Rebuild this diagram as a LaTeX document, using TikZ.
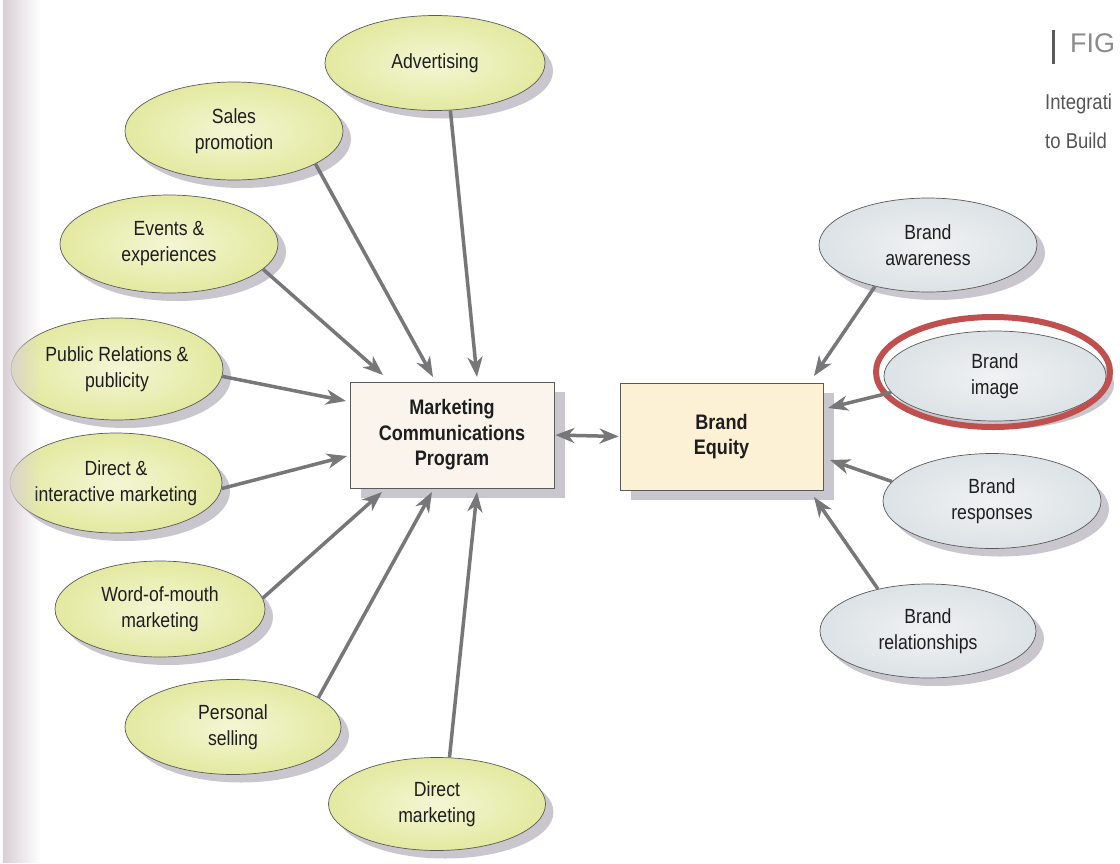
\documentclass[tikz,border=0pt]{standalone}
\usepackage{fontspec}
\setmainfont{Liberation Sans}[FakeStretch=0.86]
\newfontfamily\tagfont{Liberation Sans}
\usetikzlibrary{shapes.geometric,arrows.meta,shadows,fadings}

\definecolor{yelin}{HTML}{F4F6D4}
\definecolor{yelout}{HTML}{E3E9A0}
\definecolor{bluin}{HTML}{F0F2F3}
\definecolor{bluout}{HTML}{DCE2E6}
\definecolor{shade}{HTML}{C9C6CE}
\definecolor{linec}{HTML}{777779}
\definecolor{rimc}{HTML}{5A5A5A}
\definecolor{inkc}{HTML}{1E1E1E}
\definecolor{mcpfill}{HTML}{FBF4EC}
\definecolor{eqfill}{HTML}{FCF1D5}
\definecolor{ringc}{HTML}{C0504D}
\definecolor{edgec}{HTML}{D8CFD4}
\definecolor{tagc}{HTML}{8C8C8C}
\definecolor{capc}{HTML}{555555}

\tikzfading[name=edgefade, left color=transparent!0, right color=transparent!100]

\begin{document}
\begin{tikzpicture}[x=1pt,y=-1pt,
  bubble/.style={ellipse, draw=rimc, line width=0.7pt, inner xsep=-30pt, inner ysep=0pt,
    minimum width=216pt, minimum height=96pt, align=center, text=inkc,
    font=\fontsize{20.5}{26}\selectfont,
    drop shadow={shadow xshift=8pt, shadow yshift=-8pt, fill=shade, opacity=1}},
  tool/.style={bubble, shading=radial, inner color=yelin, outer color=yelout},
  facet/.style={bubble, shading=radial, inner color=bluin, outer color=bluout},
  hub/.style={rectangle, draw=rimc, line width=0.7pt, minimum width=204pt,
    minimum height=106pt, align=center, text=inkc,
    font=\bfseries\fontsize{21}{25.5}\selectfont,
    drop shadow={shadow xshift=11pt, shadow yshift=-10pt, fill=shade, opacity=1}},
  link/.style={draw=linec, line width=3.5pt, -{Stealth[length=20pt,width=15pt,inset=6pt]}},
  both/.style={draw=linec, line width=3.5pt,
    {Stealth[length=19pt,width=15pt,inset=6pt]}-{Stealth[length=19pt,width=15pt,inset=6pt]}},
  ring/.style={ellipse, draw=ringc, line width=6pt, inner sep=0pt},
]
\useasboundingbox (0,0) rectangle (1120,863);
\clip (0,0) rectangle (1120,863);
\fill[white] (0,0) rectangle (1120,863);

% communication options
\node[tool, minimum width=220pt, minimum height=95pt] (adv) at (435,63) {Advertising};
\node[tool, minimum width=218pt, minimum height=98pt] (sal) at (234,131) {Sales\\promotion};
\node[tool, minimum width=218pt, minimum height=98pt] (evt) at (169,244) {Events \&\\experiences};
\node[tool, minimum width=212pt, minimum height=102pt] (pr) at (117,369) {Public Relations \&\\publicity};
\node[tool, minimum width=212pt, minimum height=100pt] (dim) at (116,483) {Direct \&\\interactive marketing};
\node[tool, minimum width=210pt, minimum height=96pt] (wom) at (160,609) {Word-of-mouth\\marketing};
\node[tool, minimum width=216pt, minimum height=95pt] (ps) at (233,727) {Personal\\selling};
\node[tool, minimum width=217pt, minimum height=93pt] (dm) at (437,804) {Direct\\marketing};

% brand equity dimensions
\node[facet, minimum width=218pt, minimum height=94pt] (aw) at (928,245) {Brand\\awareness};
\node[facet, minimum width=222pt, minimum height=90pt] (im) at (995,376) {Brand\\image};
\node[facet, minimum width=218pt, minimum height=95pt] (re) at (992,501) {Brand\\responses};
\node[facet, minimum width=216pt, minimum height=94pt] (rl) at (928,631) {Brand\\relationships};
\node[ring, minimum width=234pt, minimum height=110pt] (imring) at (993,372) {};

% central boxes
\node[hub, fill=mcpfill] (mcp) at (452,435) {Marketing\\Communications\\Program};
\node[hub, fill=eqfill, minimum width=203pt, minimum height=107pt] (eq) at (721.5,436.5) {Brand\\Equity};

% arrow tips
\coordinate (t-adv) at (477,377);
\coordinate (t-sal) at (433,377);
\coordinate (t-evt) at (383,375);
\coordinate (t-pr)  at (346,401);
\coordinate (t-dim) at (347,456);
\coordinate (t-wom) at (382,492);
\coordinate (t-ps)  at (432,492);
\coordinate (t-dm)  at (477,492);
\coordinate (t-aw)  at (814,376);
\coordinate (t-im)  at (828,408);
\coordinate (t-re)  at (830,460);
\coordinate (t-rl)  at (814,497);

\draw[link] (adv.-72) -- (t-adv);
\draw[link] (sal.-22) -- (t-sal);
\draw[link] (evt.-15) -- (t-evt);
\draw[link] (pr.-4)   -- (t-pr);
\draw[link] (dim.-3)  -- (t-dim);
\draw[link] (wom.6)   -- (t-wom);
\draw[link] (ps.19)   -- (t-ps);
\draw[link] (dm.75)   -- (t-dm);
\draw[link] (aw.-142) -- (t-aw);
\draw[link] (im.-171) -- (t-im);
\draw[link] (re.169)  -- (t-re);
\draw[link] (rl.140)  -- (t-rl);
\draw[both, shorten <=1pt, shorten >=1pt] (mcp.east) -- (eq.west);

% figure heading at the page edge
\fill[rimc] (1052,30) rectangle (1055,64);
\node[anchor=west, inner sep=0pt, text=tagc, font=\tagfont\fontsize{27}{30}\selectfont] (figtag) at (1070,43) {FIG};
\node[anchor=west, inner sep=0pt, text=capc, font=\fontsize{21.5}{24}\selectfont] (cap1) at (1045,104) {Integrati};
\node[anchor=west, inner sep=0pt, text=capc, font=\fontsize{21.5}{24}\selectfont] (cap2) at (1045,141) {to Build};

% page curvature at the binding edge
\fill[edgec, path fading=edgefade] (3,0) rectangle (40,863);
\fill[white!92!edgec] (0,0) rectangle (3,863);
\end{tikzpicture}
\end{document}
